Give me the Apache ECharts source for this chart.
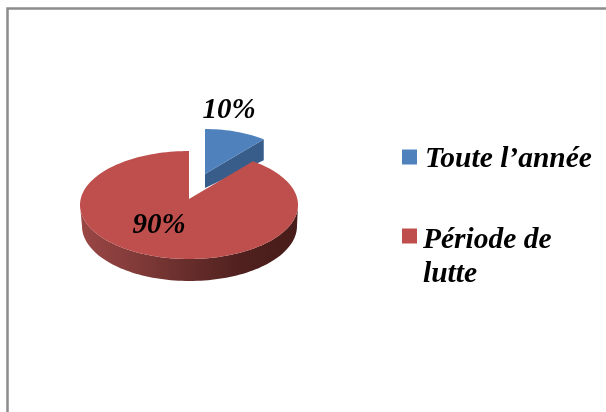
<!DOCTYPE html>
<html>
<head>
<meta charset="utf-8">
<style>html,body{margin:0;padding:0;background:#fff}#c{width:606px;height:412px}</style>
<script src="https://cdn.jsdelivr.net/npm/echarts@6/dist/echarts.min.js"></script>
</head>
<body>
<div id="c"></div>
<script>
const categories = ['Toute l’année', 'Période de lutte'];
const legendLines = [['Toute l’année'], ['Période de', 'lutte']];
const values = [10, 90];
const topColors = ['#4F81BD', '#BE4F4D'];

const FONT = '"Liberation Serif","Times New Roman",serif';
const total = values.reduce((a, b) => a + b, 0);
const labelStyle = {fontFamily: FONT, fontWeight: 'bold', fontStyle: 'italic', fontSize: 29, fill: '#000'};

function pt(e, deg) {
  const a = deg * Math.PI / 180;
  return [e.cx + e.rx * Math.sin(a), e.cy - e.ry * Math.cos(a)];
}
function arc(e, from, to) {
  const pts = [], n = Math.max(8, Math.ceil(Math.abs(to - from) / 2));
  for (let i = 0; i <= n; i++) pts.push(pt(e, from + (to - from) * i / n));
  return pts;
}

function renderBlue(params, api) {
  const end = api.value(0) / total * 360;
  const top = {cx: 205, cy: 183, rx: 100, ry: 54};
  const apex = [205, 174], apexLow = [205, 188];
  const corner = pt(top, end);
  return {type: 'group', children: [
    {type: 'polygon', shape: {points: [apex, corner, [corner[0], corner[1] + 21], apexLow]},
     style: {fill: '#385D8A'}},
    {type: 'polygon', shape: {points: [apex].concat(arc(top, 0, end))},
     style: {fill: topColors[0]}},
    {type: 'text', x: 229, y: 111,
     style: Object.assign({text: Math.round(api.value(0) / total * 100) + '%', align: 'center', verticalAlign: 'middle'}, labelStyle), z2: 10}
  ]};
}

function renderRed(params, api) {
  const start = values[0] / total * 360;
  const top = {cx: 189, cy: 205, rx: 109, ry: 54};
  const low = {cx: 189.5, cy: 226, rx: 107.5, ry: 55};
  const apex = [189, 199];
  const side = arc(top, 90, 270).concat(arc(low, 270, 90));
  const grad = new echarts.graphic.LinearGradient(80, 0, 298, 0, [
    {offset: 0, color: '#9A4745'}, {offset: 0.25, color: '#823B39'},
    {offset: 0.5, color: '#662D2B'}, {offset: 0.75, color: '#4F201E'},
    {offset: 1, color: '#481C1A'}
  ], true);
  return {type: 'group', children: [
    {type: 'polygon', shape: {points: side}, style: {fill: grad}},
    {type: 'polygon', shape: {points: [apex].concat(arc(top, start, 360))},
     style: {fill: topColors[1]}},
    {type: 'text', x: 159, y: 226,
     style: Object.assign({text: Math.round(api.value(0) / total * 100) + '%', align: 'center', verticalAlign: 'middle'}, labelStyle), z2: 10}
  ]};
}

function legendRich(padLeft, spacer) {
  return {
    rich: {
      a: {fontFamily: FONT, fontWeight: 'bold', fontStyle: 'italic', fontSize: 29.5, color: '#000', lineHeight: 34, padding: [0, 0, 0, padLeft]},
      s: {fontSize: 2, lineHeight: spacer, color: 'transparent'}
    }
  };
}
function legendFormat(lines) {
  return () => '{s| }\n' + lines.map(l => '{a|' + l + '}').join('\n');
}
const legendBase = {orient: 'vertical', icon: 'rect', itemWidth: 15, itemHeight: 15, itemGap: 0, padding: 0, selectedMode: false};

const chart = echarts.init(document.getElementById('c'), null, {renderer: 'canvas'});
chart.setOption({
  animation: false,
  backgroundColor: '#fff',
  color: topColors,
  legend: [
    Object.assign({}, legendBase, {data: [categories[0]], left: 402, top: 139,
      textStyle: legendRich(3, 4), formatter: legendFormat(legendLines[0])}),
    Object.assign({}, legendBase, {data: [categories[1]], left: 402, top: 201,
      textStyle: legendRich(1, 42), formatter: legendFormat(legendLines[1])})
  ],
  graphic: [
    {type: 'polyline', silent: true, shape: {points: [[7.5, 412], [7.5, 8.5], [606, 8.5]]},
     style: {fill: null, stroke: '#8C8C8C', lineWidth: 2.5}}
  ],
  series: [
    {type: 'custom', name: categories[0], coordinateSystem: 'none', renderItem: renderBlue, data: [[values[0]]]},
    {type: 'custom', name: categories[1], coordinateSystem: 'none', renderItem: renderRed, data: [[values[1]]]}
  ]
});
</script>
</body>
</html>
